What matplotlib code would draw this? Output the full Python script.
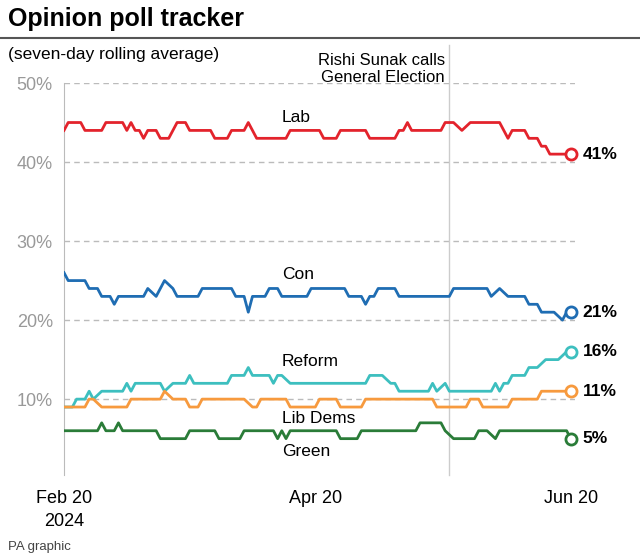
import pandas as pd
import matplotlib
matplotlib.use("Agg")
import matplotlib.pyplot as plt
from matplotlib.lines import Line2D

plt.rcParams['font.family'] = ['Liberation Sans', 'DejaVu Sans']

# daily seven-day rolling average, 20 Feb - 20 Jun 2024
dates = pd.date_range("2024-02-20", "2024-06-20", freq="D")

lab = [44,45,45,45,45,44,44,44,44,44, 45,45,45,45,45,44,45,44,44,43,
       44,44,44,43,43,43,44,45,45,45, 44,44,44,44,44,44,43,43,43,43,
       44,44,44,44,45,44,43,43,43,43, 43,43,43,43,44,44,44,44,44,44,
       44,44,43,43,43,43,44,44,44,44, 44,44,44,43,43,43,43,43,43,43,
       44,44,45,44,44,44,44,44,44,44, 44,45,45,45,44.5,44,44.5,45,45,45,
       45,45,45,45,45,44,43,44,44,44, 44,43,43,43,42,42,41,41,41,41,
       41,41]
con = [26,25,25,25,25,25,24,24,24,23, 23,23,22,23,23,23,23,23,23,23,
       24,23.5,23,24,25,24.5,24,23,23,23, 23,23,23,24,24,24,24,24,24,24,
       24,23,23,23,21,23,23,23,23,24, 24,24,23,23,23,23,23,23,23,24,
       24,24,24,24,24,24,24,24,23,23, 23,23,22,23,23,24,24,24,24,24,
       23,23,23,23,23,23,23,23,23,23, 23,23,23,24,24,24,24,24,24,24,
       24,24,23,23.5,24,23.5,23,23,23,23, 23,22,22,22,21,21,21,21,20.5,20,
       21,21]
reform = [9,9,9,10,10,10,11,10,10.5,11, 11,11,11,11,11,12,11,12,12,12,
          12,12,12,12,11,11.5,12,12,12,12, 13,12,12,12,12,12,12,12,12,12,
          13,13,13,13,14,13,13,13,13,13, 12,13,13,12.5,12,12,12,12,12,12,
          12,12,12,12,12,12,12,12,12,12, 12,12,12,13,13,13,13,12.5,12,12,
          11,11,11,11,11,11,11,11,12,11, 11.5,12,11,11,11,11,11,11,11,11,
          11,11,11,12,11,12,12,13,13,13, 13,14,14,14,14.5,15,15,15,15,15.5,
          16,16]
libdem = [9,9,9,9,9,9,10,10,9.5,9, 9,9,9,9,9,9,10,10,10,10,
          10,10,10,10,11,10.5,10,10,10,10, 9,9,9,10,10,10,10,10,10,10,
          10,10,10,10,9.5,9,9,10,10,10, 10,10,10,10,9,9,9,9,9,9,
          9,10,10,10,10,10,9,9,9,9, 9,9,10,10,10,10,10,10,10,10,
          10,10,10,10,10,10,10,10,10,9, 9,9,9,9,9,9,9,10,10,10,
          9,9,9,9,9,9,9,10,10,10, 10,10,10,10,11,11,11,11,11,11,
          11,11]
green = [6,6,6,6,6,6,6,6,6,7, 6,6,6,7,6,6,6,6,6,6,
         6,6,6,5,5,5,5,5,5,5, 6,6,6,6,6,6,6,5,5,5,
         5,5,5,6,6,6,6,6,6,6, 6,5,6,5,6,6,6,6,6,6,
         6,6,6,6,6,6,5,5,5,5, 5,6,6,6,6,6,6,6,6,6,
         6,6,6,6,6,7,7,7,7,7, 7,6,5.5,5,5,5,5,5,5,6,
         6,6,5.5,5,6,6,6,6,6,6, 6,6,6,6,6,6,6,6,6,6,
         6,5]

parties = ["Lab", "Con", "Reform", "Lib Dems", "Green"]
series = [lab, con, reform, libdem, green]
final = [41, 21, 16, 11, 5]
colours = ["#e3232c", "#1f6db3", "#3dbfbf", "#f79a3e", "#2a7c38"]
name_y = [45.6, 25.8, 14.7, 7.6, 3.4]

election_day = pd.Timestamp("2024-05-22")

fig = plt.figure(figsize=(6.4, 5.59), dpi=100)
ax = fig.add_axes([64/640, 1 - 475/559, (575 - 64)/640, (475 - 83)/559])

for name, vals, c, ny, f in zip(parties, series, colours, name_y, final):
    ax.plot(dates, vals, color=c, lw=2.0, zorder=3)
    ax.plot(dates[-1], vals[-1], 'o', mfc='white', mec=c, mew=2, ms=8,
            zorder=5, clip_on=False)
    ax.text(pd.Timestamp("2024-04-12"), ny, name, fontsize=12.5,
            va='center', ha='left', zorder=6)
    ax.annotate(f"{f}%", xy=(dates[-1], vals[-1]), xytext=(8.5, 0),
                textcoords='offset points', va='center', ha='left',
                fontsize=12.5, fontweight='bold', annotation_clip=False)

ax.axvline(election_day, ymin=0, ymax=(475 - 45)/392, color='#cccccc',
           lw=1, clip_on=False, zorder=1)

ax.set_xlim(dates[0], dates[-1] + pd.Timedelta(days=1))
ax.set_ylim(0.4, 50)
ax.set_yticks([10, 20, 30, 40, 50])
ax.set_yticklabels(["10%", "20%", "30%", "40%", "50%"])
ax.set_xticks([dates[0], pd.Timestamp("2024-04-20"), dates[-1]])
ax.set_xticklabels(["Feb 20\n2024", "Apr 20", "Jun 20"], linespacing=1.45)
ax.tick_params(axis='y', length=0, pad=8, labelsize=13, labelcolor='#999999')
ax.tick_params(axis='x', length=0, pad=11, labelsize=13)
ax.yaxis.grid(True, ls=(0, (4, 3)), color='#bbbbbb', lw=1, zorder=0)
for s in ['top', 'right', 'bottom']:
    ax.spines[s].set_visible(False)
ax.spines['left'].set_color('#bbbbbb')
ax.set_axisbelow(True)

fig.text(8/640, 1 - 19/559, "Opinion poll tracker", fontsize=18,
         fontweight='bold', va='center', ha='left')
fig.add_artist(Line2D([0, 1], [1 - 38/559, 1 - 38/559], color='#555555',
                      lw=1.5, transform=fig.transFigure))
fig.text(8/640, 1 - 54/559, "(seven-day rolling average)", fontsize=12.5,
         va='center', ha='left')
fig.text(445/640, 1 - 53/559, "Rishi Sunak calls\nGeneral Election",
         fontsize=12, va='top', ha='right', linespacing=1.2)
fig.text(8/640, 1 - 547/559, "PA graphic", fontsize=9.5, color='#444444',
         va='center', ha='left')

fig.savefig("out.png", dpi=100)
